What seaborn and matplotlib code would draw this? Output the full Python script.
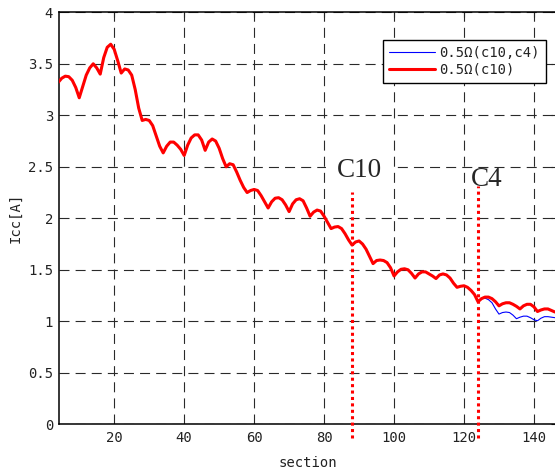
import numpy as np
import pandas as pd
import matplotlib
matplotlib.use("Agg")
import matplotlib.pyplot as plt
import seaborn as sns

# ---------------- data ----------------
sections = list(range(4, 147))
icc_c10 = [
    3.32, 3.36, 3.38, 3.375, 3.34, 3.27, 3.17, 3.28, 3.39, 3.46,   # 4-13
    3.50, 3.46, 3.40, 3.56, 3.66, 3.69, 3.64, 3.53, 3.41, 3.45,    # 14-23
    3.44, 3.39, 3.25, 3.07, 2.95, 2.96, 2.95, 2.90, 2.80, 2.70,    # 24-33
    2.635, 2.70, 2.74, 2.74, 2.71, 2.67, 2.61, 2.71, 2.78, 2.81,   # 34-43
    2.81, 2.76, 2.66, 2.74, 2.77, 2.75, 2.68, 2.58, 2.50, 2.53,    # 44-53
    2.52, 2.45, 2.37, 2.30, 2.25, 2.27, 2.28, 2.27, 2.22, 2.16,    # 54-63
    2.10, 2.16, 2.195, 2.20, 2.18, 2.13, 2.065, 2.14, 2.18, 2.19,  # 64-73
    2.17, 2.10, 2.02, 2.06, 2.08, 2.07, 2.02, 1.96, 1.90, 1.915,   # 74-83
    1.92, 1.90, 1.85, 1.79, 1.74, 1.77, 1.78, 1.75, 1.70, 1.63,    # 84-93
    1.56, 1.59, 1.595, 1.59, 1.57, 1.52, 1.44, 1.48, 1.505, 1.51,  # 94-103
    1.50, 1.465, 1.42, 1.46, 1.48, 1.48, 1.46, 1.44, 1.415, 1.45,  # 104-113
    1.46, 1.45, 1.42, 1.37, 1.33, 1.34, 1.345, 1.33, 1.30, 1.26,   # 114-123
    1.19, 1.22, 1.235, 1.235, 1.22, 1.19, 1.15, 1.17, 1.18, 1.18,  # 124-133
    1.165, 1.145, 1.12, 1.15, 1.165, 1.165, 1.14, 1.095, 1.11, 1.12,  # 134-143
    1.12, 1.105, 1.09,                                             # 144-146
]
# the (c10,c4) case coincides with (c10) up to section 124, then drops
icc_c10_c4_tail = [
    1.22, 1.225, 1.21, 1.18, 1.12, 1.07, 1.085, 1.09, 1.085, 1.06,  # 125-134
    1.025, 1.04, 1.05, 1.05, 1.035, 1.015, 1.005, 1.03, 1.045, 1.045,  # 135-144
    1.04, 1.035,                                                   # 145-146
]
icc_c10_c4 = icc_c10[:len(icc_c10) - len(icc_c10_c4_tail)] + icc_c10_c4_tail

series_labels = ["0.5Ω(c10,c4)", "0.5Ω(c10)"]

cap_sections = [88, 124]
cap_tops = [2.26, 2.31]
cap_bottom = -0.13
cap_labels = ["C10", "C4"]

xticks = [20, 40, 60, 80, 100, 120, 140]
yticks = [0, 0.5, 1, 1.5, 2, 2.5, 3, 3.5, 4]
ytick_labels = ["0", "0.5", "1", "1.5", "2", "2.5", "3", "3.5", "4"]

# ---------------- figure ----------------
sns.set_style("white")
mono = ["DejaVu Sans Mono"]
plt.rcParams["font.family"] = mono

W, H = 555, 470
fig = plt.figure(figsize=(W / 100, H / 100), dpi=100)
left_px, right_px, top_px, bottom_px = 59.3, 556.0, 12.3, 424.3
ax = fig.add_axes([left_px / W, (H - bottom_px) / H,
                   (right_px - left_px) / W, (bottom_px - top_px) / H])

df = pd.DataFrame({
    "section": sections * 2,
    "Icc": icc_c10_c4 + icc_c10,
    "series": [series_labels[0]] * len(sections) + [series_labels[1]] * len(sections),
})

sns.lineplot(data=df[df.series == series_labels[0]], x="section", y="Icc",
             color="#0000ff", linewidth=0.8, ax=ax, label=series_labels[0],
             estimator=None, sort=False, zorder=3)
sns.lineplot(data=df[df.series == series_labels[1]], x="section", y="Icc",
             color="#ff0000", linewidth=2.2, ax=ax, label=series_labels[1],
             estimator=None, sort=False, zorder=4)

ax.set_xlim(4.3, 146.3)
ax.set_ylim(0, 4)
ax.set_xticks(xticks)
ax.set_yticks(yticks)
ax.set_yticklabels(ytick_labels)

ax.grid(True, color="#2a2a2a", linestyle=(0, (9, 5.5)), linewidth=0.8)
ax.set_axisbelow(True)

for s in ax.spines.values():
    s.set_color("black")
    s.set_linewidth(1.1)

ax.tick_params(direction="in", length=3.6, width=0.8, top=True, right=True,
               labelsize=10, labelcolor="#222222", pad=4.5)

ax.set_xlabel("section", fontsize=10, color="#222222", labelpad=8)
ax.set_ylabel("Icc[A]", fontsize=10, color="#222222", labelpad=4)

# vertical capacitor markers
ax.vlines(cap_sections, cap_bottom, cap_tops, colors="#ff0000",
          linestyles=(0, (1, 1.1)), linewidth=2.2, clip_on=False, zorder=6)
serif = ["Liberation Serif", "DejaVu Serif"]
ax.text(cap_sections[0] + 2.1, 2.46, cap_labels[0], family=serif, fontsize=19.5,
        ha="center", va="center", zorder=5,
        bbox=dict(facecolor="white", edgecolor="none", pad=8))
ax.text(cap_sections[1] + 2.5, 2.38, cap_labels[1], family=serif, fontsize=19.5,
        ha="center", va="center", zorder=5)

leg = ax.legend(loc="upper right", bbox_to_anchor=(0.979, 0.933),
                fontsize=10, frameon=True, fancybox=False, handlelength=3.3,
                handletextpad=0.3, borderpad=0.45, labelspacing=0.2,
                borderaxespad=0)
leg.get_frame().set_edgecolor("black")
leg.get_frame().set_linewidth(1.0)
leg.get_frame().set_alpha(1)
for t in leg.get_texts():
    t.set_color("#222222")

fig.savefig("out.png", dpi=100)
